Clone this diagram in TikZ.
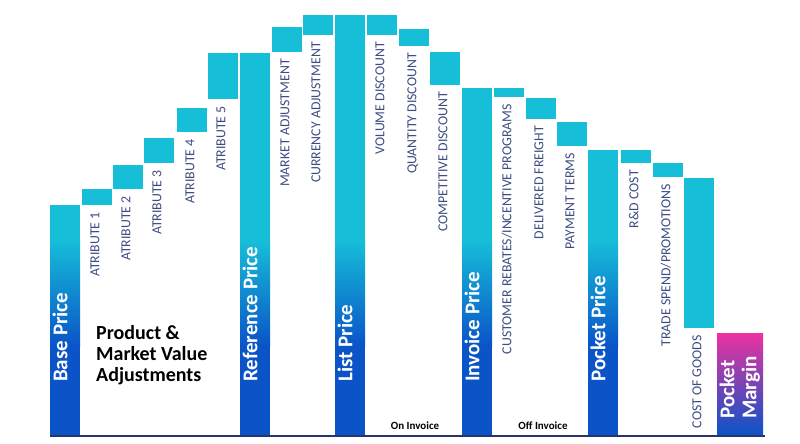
\documentclass[tikz,border=0pt]{standalone}
\usepackage{fontspec}
\setmainfont{Carlito}
\usepackage{tikz}
\definecolor{barcyan}{RGB}{22,190,216}
\definecolor{barblue}{RGB}{10,84,200}
\definecolor{marginpink}{RGB}{236,50,160}
\definecolor{labelslate}{RGB}{62,76,130}
\definecolor{axisnavy}{RGB}{40,52,112}
\newcommand{\barwidth}{30}
\newcommand{\pricebar}[4]{
	\fill [barcyan] (#2,#3) rectangle (#2+\barwidth,241);
	\shade [top color=barcyan, bottom color=barblue] (#2,240) rectangle (#2+\barwidth,346);
	\fill [barblue] (#2,345) rectangle (#2+\barwidth,435);
	\node [pricelabel] (#1) at (#2+\barwidth/2,382) {#4};}
\newcommand{\adjblock}[5]{
	\fill [barcyan] (#2,#3) rectangle (#2+\barwidth,#4);
	\node [adjlabel] (#1) at (#2+\barwidth/2,#4+7) {#5};}

\begin{document}
\begin{tikzpicture}[x=1pt,y=-1pt,
	pricelabel/.style={rotate=90, anchor=mid west, inner sep=0pt, text=white, font=\fontsize{21}{22}\selectfont\bfseries},
	adjlabel/.style={rotate=90, anchor=mid east, inner sep=0pt, text=labelslate, font=\fontsize{13.8}{14}\selectfont},
	notelabel/.style={inner sep=0pt, font=\fontsize{11}{12}\selectfont\bfseries}]
	\useasboundingbox (0,0) rectangle (800,444);
	\pricebar{base}{50}{205}{Base Price}
	\adjblock{attr1}{82}{189}{205}{ATRIBUTE 1}
	\adjblock{attr2}{113}{165}{189}{ATRIBUTE 2}
	\adjblock{attr3}{144}{138}{163}{ATRIBUTE 3}
	\adjblock{attr4}{177}{108}{132}{ATRIBUTE 4}
	\adjblock{attr5}{208}{53}{99}{ATRIBUTE 5}
	\pricebar{reference}{240}{53}{Reference Price}
	\adjblock{market}{272}{27}{52}{MARKET ADJUSTMENT}
	\adjblock{currency}{303}{15}{35}{CURRENCY ADJUSTMENT}
	\pricebar{list}{335}{15}{List Price}
	\adjblock{volume}{367}{15}{35}{VOLUME DISCOUNT}
	\adjblock{quantity}{399}{29}{46}{QUANTITY DISCOUNT}
	\adjblock{competitive}{430}{52}{85}{COMPETITIVE DISCOUNT}
	\pricebar{invoice}{462}{88}{Invoice Price}
	\adjblock{rebates}{494}{88}{97}{CUSTOMER REBATES/INCENTIVE PROGRAMS}
	\adjblock{freight}{526}{98}{119}{DELIVERED FREIGHT}
	\adjblock{payment}{557}{122}{146}{PAYMENT TERMS}
	\pricebar{pocket}{588}{150}{Pocket Price}
	\adjblock{rdcost}{621}{150}{163}{R\&D COST}
	\adjblock{trade}{653}{163}{177}{TRADE SPEND/PROMOTIONS}
	\adjblock{goods}{684}{178}{328}{COST OF GOODS}
	\shade [top color=marginpink, bottom color=barblue] (717,333) rectangle (763,435);
	\node [pricelabel, anchor=west] (margin) at (741,419) {\begin{tabular}{@{}l@{}}Pocket\\ Margin\end{tabular}};
	\node [anchor=north west, inner sep=0pt, font=\fontsize{20}{21}\selectfont\bfseries] (adjust) at (96,325) {\begin{tabular}{@{}l@{}}Product \&\\ Market Value\\ Adjustments\end{tabular}};
	\node [notelabel] (oninv) at (415,426) {On Invoice};
	\node [notelabel] (offinv) at (543,426) {Off Invoice};
	\draw [axisnavy, line width=2pt] (50,436) -- (765,436);
\end{tikzpicture}
\end{document}
